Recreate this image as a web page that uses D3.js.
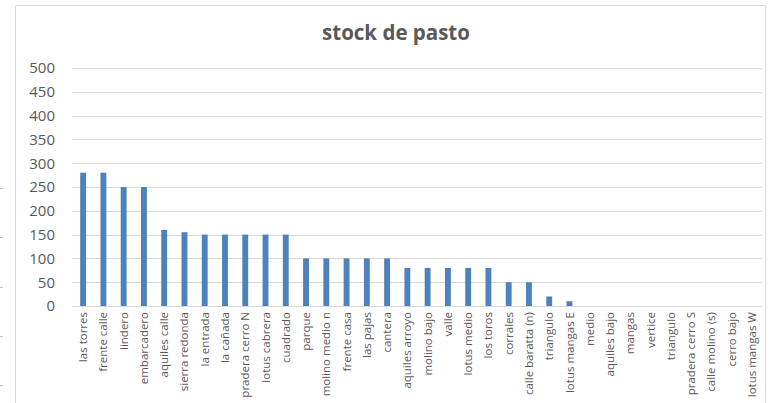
<!DOCTYPE html>
<html>
<head>
<meta charset="utf-8">
<script src="https://cdn.jsdelivr.net/npm/d3@7"></script>
<style>
  html, body { margin: 0; padding: 0; background: #fff; }
  svg { display: block; }
  text { font-family: "Open Sans", "Noto Sans", sans-serif; fill: #595959; }
</style>
</head>
<body>
<svg id="chart" width="778" height="403"></svg>
<script>
// Paddocks and their grass stock
const categories = [
  "las torres", "frente calle", "lindero", "embarcadero", "aquiles calle",
  "sierra redonda", "la entrada", "la cañada", "pradera cerro N", "lotus cabrera",
  "cuadrado", "parque", "molino medio n", "frente casa", "las pajas",
  "cantera", "aquiles arroyo", "molino bajo", "valle", "lotus medio",
  "los toros", "corrales", "calle baratta (n)", "triangulo", "lotus mangas E",
  "medio", "aquiles bajo", "mangas", "vertice", "triangulo",
  "pradera cerro S", "calle molino (s)", "cerro bajo", "lotus mangas W"
];
const stock = [
  280, 280, 250, 250, 160,
  155, 150, 150, 150, 150,
  150, 100, 100, 100, 100,
  100, 80, 80, 80, 80,
  80, 50, 50, 20, 10,
  0, 0, 0, 0, 0,
  0, 0, 0, 0
];
const yTicks = [0, 50, 100, 150, 200, 250, 300, 350, 400, 450, 500];
const title = "stock de pasto";

const svg = d3.select("#chart");
const plot = { left: 73, right: 762, top: 68, bottom: 306 };

// chart area frame
svg.append("path")
  .attr("d", "M15.5,403 V5.5 H765.5 V403")
  .attr("fill", "none")
  .attr("stroke", "#d9d9d9")
  .attr("stroke-width", 1);

// small marks along the left edge
[188, 237, 287, 336, 385].forEach(y => {
  svg.append("line").attr("x1", 0).attr("x2", 3)
    .attr("y1", y + 0.5).attr("y2", y + 0.5)
    .attr("stroke", "#bfbfbf");
});

svg.append("text")
  .attr("x", 396).attr("y", 40)
  .attr("text-anchor", "middle")
  .style("font-size", "20.5px").style("font-weight", "bold")
  .text(title);

const x = d3.scaleBand()
  .domain(d3.range(categories.length))
  .range([plot.left, plot.right])
  .paddingInner(0.71).paddingOuter(0.355);

const y = d3.scaleLinear().domain([0, 500]).range([plot.bottom, plot.top]);

// horizontal gridlines
svg.append("g")
  .selectAll("line").data(yTicks).join("line")
  .attr("x1", 72).attr("x2", plot.right)
  .attr("y1", d => Math.round(y(d)) + 0.5).attr("y2", d => Math.round(y(d)) + 0.5)
  .attr("stroke", "#d9d9d9").attr("stroke-width", 1);

// y axis labels
const yAxis = d3.axisLeft(y).tickValues(yTicks).tickSize(0).tickPadding(0);
svg.append("g")
  .attr("transform", "translate(55,0)")
  .call(yAxis)
  .call(g => g.select(".domain").remove())
  .selectAll("text")
  .style("font-size", "15px")
  .attr("fill", "#595959")
  .style("font-family", "'Open Sans', sans-serif");

// bars
svg.append("g")
  .selectAll("rect").data(stock).join("rect")
  .attr("x", (d, i) => x(i))
  .attr("width", x.bandwidth())
  .attr("y", d => y(d))
  .attr("height", d => y(0) - y(d))
  .attr("fill", "#4f81bd");

// category labels
const xAxis = d3.axisBottom(x).tickSize(0).tickPadding(0).tickFormat(i => categories[i]);
svg.append("g")
  .attr("transform", `translate(0,${plot.bottom})`)
  .call(xAxis)
  .call(g => g.select(".domain").remove())
  .selectAll("text")
  .attr("transform", "rotate(-90)")
  .attr("x", -6).attr("y", 0).attr("dy", "0.35em")
  .attr("text-anchor", "end")
  .attr("fill", "#595959")
  .style("font-size", "11.5px")
  .style("font-family", "'Open Sans', sans-serif");
</script>
</body>
</html>
